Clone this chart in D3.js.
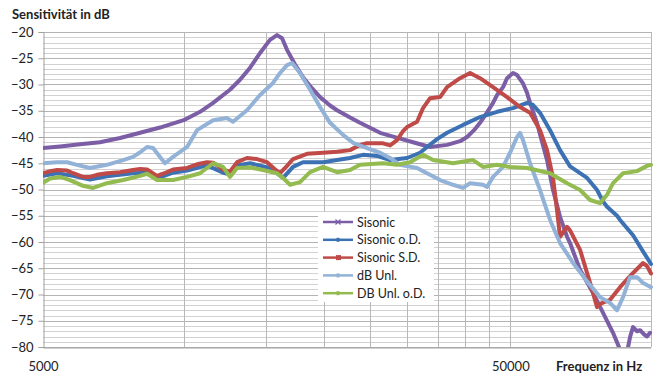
<!DOCTYPE html>
<html>
<head>
<meta charset="utf-8">
<script src="https://cdn.jsdelivr.net/npm/d3@7"></script>
<style>
  html, body { margin: 0; padding: 0; background: #fff; }
  svg { display: block; }
  text { font-family: Lato, "Open Sans", sans-serif; fill: #222; }
</style>
</head>
<body>
<svg id="chart" width="656" height="376"></svg>
<script>
// Frequency response measurements, [Hz, dB]
const sisonic = [
  [5000,-42.1],[5440,-41.8],[6000,-41.4],[6620,-41.0],[7310,-40.2],[8070,-39.2],[8900,-38.2],
  [10000,-36.8],[10840,-35.2],[11560,-33.5],[12560,-31.0],[13200,-29.1],[13870,-26.8],[14570,-24.0],
  [15300,-21.5],[15840,-20.6],[16240,-21.2],[16640,-23.4],[17310,-26.2],[18000,-28.6],[18640,-30.3],
  [19580,-32.4],[20570,-34.0],[21290,-34.9],[22700,-36.3],[23840,-37.3],[26320,-39.2],[29040,-40.3],
  [30960,-41.0],[33670,-41.9],[36610,-41.5],[39030,-40.8],[40400,-40.0],[41820,-38.7],[43070,-37.3],
  [44590,-35.3],[45920,-33.5],[46840,-32.0],[48240,-30.5],[49200,-28.8],[50670,-27.8],[51690,-28.2],
  [53230,-29.8],[54300,-31.6],[55100,-33.5],[57030,-37.3],[57880,-39.5],[59920,-44.4],[61710,-50.1],
  [63880,-55.2],[66130,-59.0],[67110,-60.2],[70500,-65.3],[75170,-69.7],[78960,-73.5],[82940,-77.3],
  [85860,-80.5],[87560,-83.0],[88870,-81.0],[90190,-78.1],[91530,-76.2],[93360,-77.0],[94750,-76.8],
  [96620,-77.6],[98070,-78.0],[99530,-77.3]
];
const sisonicOD = [
  [5000,-47.4],[5360,-46.9],[5800,-47.4],[6300,-48.1],[6850,-47.5],[7790,-46.9],[8350,-46.8],
  [8770,-47.9],[9490,-46.8],[10170,-46.4],[11220,-45.4],[12140,-46.8],[12560,-47.1],[13010,-45.4],
  [13870,-45.0],[15300,-45.9],[16320,-47.8],[17140,-45.7],[18000,-44.8],[19870,-44.8],[21290,-44.4],
  [22700,-44.0],[24200,-43.4],[25930,-43.6],[27650,-44.4],[30060,-44.0],[32050,-43.0],[33170,-41.9],
  [34850,-40.4],[36610,-39.2],[39610,-37.7],[43070,-36.2],[46840,-35.2],[50670,-34.5],[54300,-33.5],
  [55920,-33.9],[57880,-35.4],[60810,-38.7],[63880,-42.5],[67110,-45.6],[72980,-47.8],[76670,-50.1],
  [78960,-52.3],[80530,-53.3],[84600,-55.0],[85860,-55.8],[91530,-58.7],[96160,-61.8],[100000,-64.2]
];
const sisonicSD = [
  [5000,-46.9],[5180,-46.5],[5360,-46.3],[5630,-46.4],[5800,-46.9],[6090,-47.6],[6300,-47.6],
  [6520,-47.2],[6850,-46.9],[7310,-46.7],[7790,-46.3],[8070,-46.1],[8350,-46.2],[8770,-47.4],
  [9030,-47.0],[9490,-46.2],[10170,-45.9],[10680,-45.2],[11220,-44.8],[11560,-44.9],[12140,-46.2],
  [12560,-46.6],[13010,-44.8],[13660,-44.0],[14350,-44.2],[15080,-44.8],[15610,-46.0],[16080,-46.9],
  [16640,-45.5],[17140,-44.2],[18360,-43.2],[19870,-43.0],[21290,-42.8],[22700,-42.5],[23840,-41.5],
  [24680,-41.2],[26710,-41.2],[27650,-41.6],[28610,-40.6],[29470,-38.9],[30060,-38.1],[31580,-37.1],
  [32520,-34.5],[33670,-32.6],[35370,-32.4],[36610,-30.5],[39030,-28.8],[41000,-27.8],[43070,-28.8],
  [45920,-30.5],[49200,-32.4],[52450,-34.3],[55100,-35.4],[57880,-38.7],[59920,-42.5],[61710,-47.8],
  [62950,-54.0],[63880,-59.0],[66130,-57.1],[67110,-57.8],[70500,-61.5],[74070,-67.8],[76670,-72.4],
  [77800,-71.8],[81730,-71.0],[85860,-68.6],[91530,-65.9],[96160,-64.0],[98070,-64.6],[100000,-66.0]
];
const dbUnl = [
  [5000,-45.0],[5360,-44.8],[5630,-44.8],[5910,-45.3],[6300,-45.9],[6850,-45.3],[7420,-44.4],
  [7790,-43.8],[8070,-42.9],[8350,-41.9],[8600,-42.1],[8900,-43.8],[9120,-45.0],[9490,-43.8],
  [10170,-41.9],[10680,-38.7],[11560,-36.8],[12380,-36.4],[12750,-37.1],[13660,-34.9],[14570,-32.0],
  [15530,-29.7],[16080,-27.8],[16640,-26.3],[17060,-25.9],[17740,-27.8],[18640,-31.0],[19580,-34.3],
  [20570,-37.3],[21930,-39.6],[23030,-41.1],[24680,-42.1],[26320,-43.0],[27650,-44.0],[29040,-45.3],
  [31580,-45.9],[33170,-46.9],[35370,-48.2],[37700,-49.1],[39610,-49.7],[41000,-48.8],[43710,-49.1],
  [44590,-49.5],[45920,-47.6],[48240,-45.7],[49930,-43.0],[51690,-40.0],[52450,-39.2],[53230,-40.6],
  [55100,-45.0],[57880,-50.1],[60810,-55.8],[63880,-60.2],[68110,-64.0],[72980,-67.5],[77800,-70.5],
  [81730,-71.6],[84600,-73.0],[87140,-70.5],[90190,-66.7],[93360,-66.7],[96160,-67.8],[100000,-68.6]
];
const dbUnlOD = [
  [5000,-48.7],[5180,-47.9],[5440,-47.6],[5710,-48.2],[6090,-49.3],[6400,-49.7],[6850,-48.8],
  [7420,-48.2],[8070,-47.4],[8350,-47.0],[8770,-48.2],[9490,-48.2],[10170,-47.6],[10840,-46.9],
  [11560,-45.0],[12140,-45.7],[12560,-47.6],[13010,-45.9],[13870,-45.8],[14780,-46.3],[15840,-46.9],
  [16320,-47.8],[16890,-49.1],[17740,-48.6],[18640,-46.7],[19870,-45.7],[21290,-46.7],[22700,-46.3],
  [23840,-45.3],[26710,-45.0],[28610,-45.3],[30500,-44.8],[32520,-43.4],[34170,-44.4],[37700,-45.0],
  [41610,-44.4],[43710,-45.7],[46840,-45.3],[49930,-45.7],[54300,-45.9],[60810,-46.9],[66130,-48.8],
  [70500,-50.1],[74070,-52.0],[77800,-52.6],[80530,-51.0],[82940,-48.8],[87140,-46.9],[93360,-46.5],
  [98070,-45.5],[100000,-45.3]
];

const seriesNames = ["Sisonic", "Sisonic o.D.", "Sisonic S.D.", "dB Unl.", "DB Unl. o.D."];
const seriesColors = ["#7b5ea6", "#3c72b4", "#bf4a47", "#93b2d8", "#93bb50"];
const seriesMarkers = ["cross", "dash", "square", "dash", "dash"];
const allSeries = [sisonic, sisonicOD, sisonicSD, dbUnl, dbUnlOD];

const yTicks = [-20, -25, -30, -35, -40, -45, -50, -55, -60, -65, -70, -75, -80];
const xTickLabels = [5000, 50000];
const xGrid = [10000, 15000, 20000, 25000, 30000, 35000, 40000, 45000, 50000, 100000];

const yTitle = "Sensitivität in dB";
const xTitle = "Frequenz in Hz";

const svg = d3.select("#chart");
const plot = { left: 43, right: 651, top: 32, bottom: 347 };

const x = d3.scaleLog().domain([5000, 100000]).range([plot.left, plot.right]);
const y = d3.scaleLinear().domain([-80, -20]).range([plot.bottom, plot.top]);

// minor horizontal grid every 1 dB, major every 5 dB
const minorY = d3.range(-80, -19, 1).filter(v => v % 5 !== 0);
svg.append("g").selectAll("line").data(minorY).join("line")
  .attr("x1", plot.left).attr("x2", plot.right)
  .attr("y1", d => Math.round(y(d)) + 0.5).attr("y2", d => Math.round(y(d)) + 0.5)
  .attr("stroke", "#d2d2d2").attr("stroke-width", 1);
svg.append("g").selectAll("line").data(yTicks).join("line")
  .attr("x1", plot.left).attr("x2", plot.right)
  .attr("y1", d => Math.round(y(d)) + 0.5).attr("y2", d => Math.round(y(d)) + 0.5)
  .attr("stroke", "#b4b4b4").attr("stroke-width", 1);

// vertical grid
svg.append("g").selectAll("line").data(xGrid).join("line")
  .attr("x1", d => Math.round(x(d)) + 0.5).attr("x2", d => Math.round(x(d)) + 0.5)
  .attr("y1", plot.top).attr("y2", plot.bottom)
  .attr("stroke", "#b8b8b8").attr("stroke-width", 1);

// axes
const yAxis = svg.append("g")
  .attr("transform", `translate(${plot.left + 0.5},0)`)
  .call(d3.axisLeft(y).tickValues(yTicks).tickSize(5).tickPadding(5).tickFormat(d3.format("d")));
yAxis.select(".domain").attr("stroke", "#a0a0a0");
yAxis.selectAll(".tick line").attr("stroke", "#a0a0a0");
yAxis.selectAll("text").attr("font-size", 13).attr("font-family", "Lato, sans-serif").attr("fill", "#222");

const xAxis = svg.append("g")
  .attr("transform", `translate(0,${plot.bottom + 0.5})`)
  .call(d3.axisBottom(x).tickValues(xTickLabels).tickSize(0).tickPadding(14).tickFormat(d3.format("d")));
xAxis.select(".domain").attr("stroke", "#a0a0a0");
xAxis.selectAll("text").attr("font-size", 13).attr("font-family", "Lato, sans-serif").attr("fill", "#222");

// curves
svg.append("clipPath").attr("id", "plotClip")
  .append("rect").attr("x", plot.left).attr("y", plot.top - 4)
  .attr("width", plot.right - plot.left + 3).attr("height", plot.bottom - plot.top + 4);

const line = d3.line().x(d => x(d[0])).y(d => y(d[1])).curve(d3.curveLinear);
const curves = svg.append("g").attr("clip-path", "url(#plotClip)");
allSeries.forEach((s, i) => {
  curves.append("path").datum(s)
    .attr("d", line)
    .attr("fill", "none")
    .attr("stroke", seriesColors[i])
    .attr("stroke-width", 4)
    .attr("stroke-linejoin", "round")
    .attr("stroke-linecap", "round");
});

// legend
const lg = svg.append("g").attr("transform", "translate(318,212)");
lg.append("rect").attr("width", 116).attr("height", 90).attr("fill", "#fff");
seriesNames.forEach((name, i) => {
  const cy = 10 + i * 17.8;
  const row = lg.append("g").attr("transform", `translate(0,${cy})`);
  row.append("line").attr("x1", 5).attr("x2", 35).attr("y1", 0).attr("y2", 0)
    .attr("stroke", seriesColors[i]).attr("stroke-width", 2.5);
  if (seriesMarkers[i] === "square") {
    row.append("rect").attr("x", 18).attr("y", -2.5).attr("width", 5).attr("height", 5).attr("fill", seriesColors[i]);
  } else if (seriesMarkers[i] === "cross") {
    row.append("path").attr("d", "M17.5,-2.5L22.5,2.5M17.5,2.5L22.5,-2.5")
      .attr("stroke", seriesColors[i]).attr("stroke-width", 1.2);
  } else {
    row.append("rect").attr("x", 18.5).attr("y", -2).attr("width", 3).attr("height", 4).attr("fill", seriesColors[i]);
  }
  row.append("text").attr("x", 39).attr("y", 4.5).attr("font-size", 12.5).text(name);
});

// titles
svg.append("text").attr("x", 12).attr("y", 19)
  .attr("font-size", 13).attr("font-weight", "bold").text(yTitle);
svg.append("text").attr("x", 556).attr("y", 371)
  .attr("font-size", 13).attr("font-weight", "bold").text(xTitle);
</script>
</body>
</html>
